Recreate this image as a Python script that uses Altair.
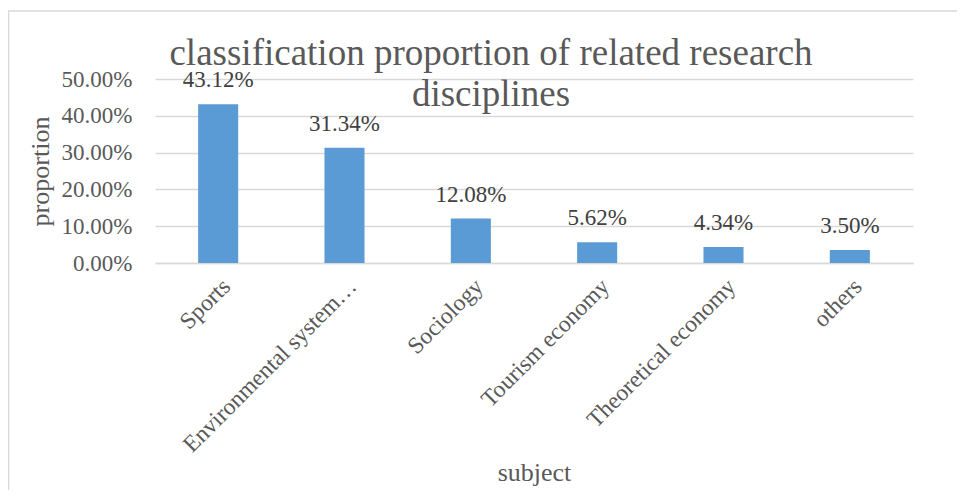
import altair as alt
import pandas as pd

subjects = ["Sports", "Environmental system\u2026", "Sociology", "Tourism economy", "Theoretical economy", "others"]
proportions = [0.4312, 0.3134, 0.1208, 0.0562, 0.0434, 0.0350]
y_ticks = [0.0, 0.1, 0.2, 0.3, 0.4, 0.5]
title_lines = ["classification proportion of related research", "disciplines"]

df = pd.DataFrame({"subject": subjects, "proportion": proportions})
one = pd.DataFrame({"k": [0]})

FONT = "Liberation Serif"
GREY = "#595959"
W, H = 758, 184

x_enc = alt.X("subject:N", sort=subjects,
              scale=alt.Scale(paddingInner=0.683, paddingOuter=0.3415),
              axis=alt.Axis(title="subject", labelAngle=-45, labelPadding=11,
                            labelFontSize=23.5, labelColor=GREY, labelFont=FONT,
                            labelLimit=400, ticks=False, domainColor="#d9d9d9",
                            domainWidth=1.5, titleFontSize=26, titleFont=FONT,
                            titleColor=GREY, titleFontWeight="normal",
                            labelOverlap=False,
                            titleX=W / 2, titleY=217, titleBaseline="alphabetic"))
y_enc = alt.Y("proportion:Q", scale=alt.Scale(domain=[0, 0.5], nice=False),
              axis=alt.Axis(title="proportion", values=y_ticks, format=".2%",
                            labelFontSize=23, labelColor=GREY, labelFont=FONT,
                            labelPadding=23, ticks=False, domain=False,
                            labelOverlap=False, labelBound=False,
                            gridColor="#d9d9d9", gridWidth=1.5,
                            titleFontSize=26, titleFont=FONT, titleColor=GREY,
                            titleFontWeight="normal", titleAngle=270,
                            titleX=-115, titleY=H / 2, titleAlign="center",
                            titleBaseline="middle"))

base = alt.Chart(df).encode(x=x_enc, y=y_enc)

bars = base.mark_bar(color="#5b9bd5")

labels = base.mark_text(font=FONT, fontSize=23, color="#404040",
                        baseline="alphabetic", dy=-17).encode(
    text=alt.Text("proportion:Q", format=".2%"),
)

frame = alt.Chart(one).mark_rect(fill="transparent", stroke="#d9d9d9",
                                 strokeWidth=1.5).encode(
    x=alt.value(-146.5), x2=alt.value(900), y=alt.value(-68), y2=alt.value(500)
)

title = alt.Chart(one).mark_text(font=FONT, fontSize=37, color=GREY,
                                 align="center", baseline="alphabetic",
                                 lineHeight=41).encode(
    x=alt.value(336), y=alt.value(-14), text=alt.value(title_lines)
)

chart = alt.layer(frame, bars, labels, title).properties(
    width=W, height=H,
    autosize=alt.AutoSizeParams(type="none"),
    padding={"left": 147, "top": 71, "right": 44, "bottom": 227},
).configure_view(stroke=None)

chart.save("out.html", embed_options={"renderer": "svg", "actions": False})
